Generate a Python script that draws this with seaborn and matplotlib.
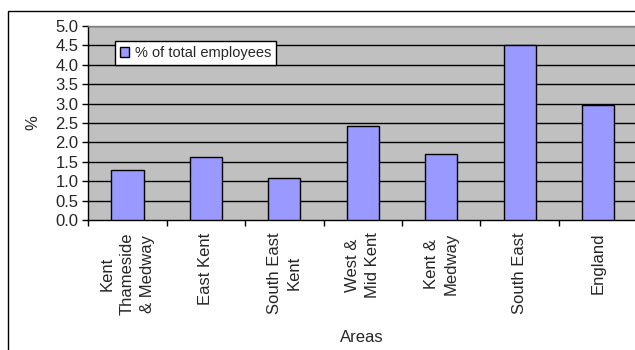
import matplotlib
matplotlib.use("Agg")
import matplotlib.pyplot as plt
import matplotlib.patches as mpatches
import seaborn as sns
import pandas as pd
import numpy as np

categories = ["Kent\nThameside\n& Medway", "East Kent", "South East\nKent",
              "West &\nMid Kent", "Kent &\nMedway", "South East", "England"]
values = [1.29, 1.63, 1.09, 2.42, 1.70, 4.52, 2.96]
series_name = "% of total employees"
y_ticks = [0.0, 0.5, 1.0, 1.5, 2.0, 2.5, 3.0, 3.5, 4.0, 4.5, 5.0]

sns.set_style("white")
plt.rcParams['font.family'] = ['Liberation Sans', 'DejaVu Sans']

df = pd.DataFrame({"Area": categories, "Value": values})

W, H = 635, 350
fig = plt.figure(figsize=(W / 100, H / 100), dpi=100)
left, right, top, bottom = 88.3, 637.3, 26, 220
ax = fig.add_axes([left / W, (H - bottom) / H, (right - left) / W, (bottom - top) / H])
ax.set_facecolor("#C0C0C0")

sns.barplot(data=df, x="Area", y="Value", ax=ax, color="#9999FF",
            edgecolor="black", linewidth=1.0, width=0.41, saturation=1,
            label=series_name, zorder=3)

ax.set_xlim(-0.5, len(categories) - 0.5)
ax.set_ylim(0, 5.0)
ax.set_yticks(y_ticks)
ax.set_yticklabels([f"{t:.1f}" for t in y_ticks], fontsize=12)
for t in y_ticks[1:]:
    ax.axhline(t, color="black", lw=1.0, zorder=1)

# x ticks at category boundaries
ax.set_xticks(np.arange(-0.5, len(categories), 1.0), minor=False)
ax.set_xticklabels([])
ax.set_xticks(np.arange(len(categories)), minor=True)
ax.set_xticklabels(categories, minor=True, rotation=90, fontsize=12,
                   ha="center", va="top", linespacing=1.45)
ax.tick_params(axis="x", which="major", direction="out", length=4, width=1,
               color="black", bottom=True)
ax.tick_params(axis="x", which="minor", length=0, pad=9)
ax.tick_params(axis="y", direction="out", length=4, width=1, color="black",
               left=True, pad=3)

for s in ["left", "bottom"]:
    ax.spines[s].set_color("black")
    ax.spines[s].set_linewidth(1.0)
for s in ["top", "right"]:
    ax.spines[s].set_color("#808080")
    ax.spines[s].set_linewidth(1.0)

ax.set_xlabel("Areas", fontsize=12)
ax.xaxis.set_label_coords((362 - left) / (right - left), (bottom - 337) / (bottom - top))
ax.xaxis.label.set_va("center")
ax.set_ylabel("%", fontsize=12)
ax.yaxis.set_label_coords((33 - left) / (right - left), 0.5)
ax.yaxis.label.set_va("center")

leg = ax.legend(loc="upper left", bbox_to_anchor=(0.0486, 0.923),
                borderaxespad=0, fancybox=False, framealpha=1,
                edgecolor="black", fontsize=10.5, handlelength=0.6,
                handleheight=0.6, handletextpad=0.4, borderpad=0.35)
leg.get_frame().set_linewidth(1.0)

border = mpatches.Rectangle((8.3 / W, -0.1), 1.0, (H - 11) / H + 0.1,
                            transform=fig.transFigure, fill=False,
                            edgecolor="black", lw=1.0)
fig.patches.append(border)

fig.savefig("out.png", dpi=100)
